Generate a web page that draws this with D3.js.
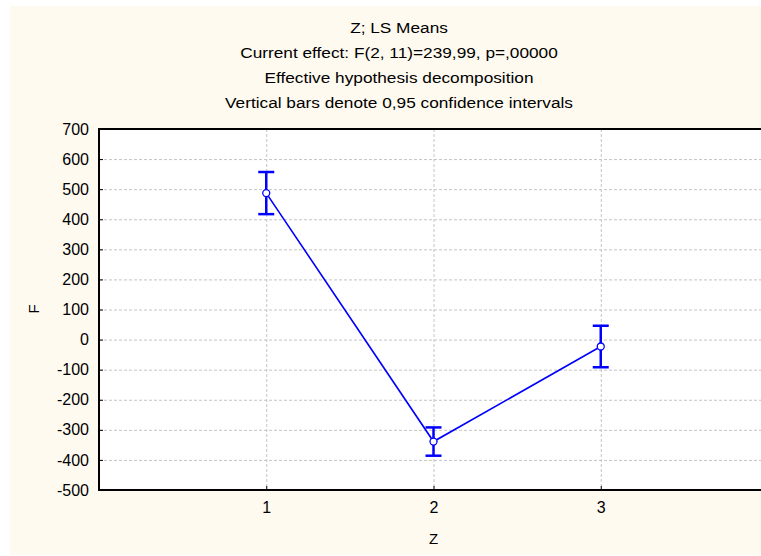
<!DOCTYPE html>
<html lang="en">
<head>
    <meta charset="UTF-8">
    <title>Z; LS Means</title>
    <script src="https://d3js.org/d3.v7.min.js"></script>
    <style>
        body { margin: 0; background: #ffffff; }
        svg text {
            font-family: "Liberation Sans", Arial, Helvetica, sans-serif;
            fill: #000;
        }
        .grid line {
            stroke: #c4c4c4;
            stroke-width: 1px;
            stroke-dasharray: 3,2;
        }
        .axis-line {
            stroke: #000;
            stroke-width: 2px;
        }
    </style>
</head>
<body>
    <svg width="761" height="556"></svg>

    <script>
        // data
        const categories = [1, 2, 3];
        const means = [487, -339, -23];
        const ciLow = [417, -386, -92];
        const ciHigh = [557, -292, 46];
        const yTicks = [700, 600, 500, 400, 300, 200, 100, 0, -100, -200, -300, -400, -500];
        const titles = [
            "Z; LS Means",
            "Current effect: F(2, 11)=239,99, p=,00000",
            "Effective hypothesis decomposition",
            "Vertical bars denote 0,95 confidence intervals"
        ];

        const svg = d3.select("svg");
        const plotLeft = 99, plotRight = 768, plotTop = 129, plotBottom = 490;

        const x = d3.scaleLinear().domain([0, 4]).range([plotLeft, plotRight]);
        const y = d3.scaleLinear().domain([-500, 700]).range([plotBottom, plotTop]);

        // cream background
        svg.append("rect")
            .attr("x", 10).attr("y", 6)
            .attr("width", 751).attr("height", 549)
            .attr("fill", "#fffaf0");

        // plot area
        svg.append("rect")
            .attr("x", plotLeft).attr("y", plotTop)
            .attr("width", plotRight - plotLeft).attr("height", plotBottom - plotTop)
            .attr("fill", "#ffffff");

        // gridlines
        const grid = svg.append("g").attr("class", "grid");
        grid.selectAll(".hg").data(yTicks.filter(d => d > -500 && d < 700)).enter()
            .append("line")
            .attr("x1", plotLeft).attr("x2", plotRight)
            .attr("y1", d => y(d) + 0.5).attr("y2", d => y(d) + 0.5);
        grid.selectAll(".vg").data(categories).enter()
            .append("line")
            .attr("y1", plotTop).attr("y2", plotBottom)
            .attr("x1", d => x(d) + 0.5).attr("x2", d => x(d) + 0.5);

        // frame
        svg.append("line").attr("class", "axis-line")
            .attr("x1", plotLeft).attr("x2", plotRight).attr("y1", plotTop).attr("y2", plotTop);
        svg.append("line").attr("class", "axis-line")
            .attr("x1", plotLeft).attr("x2", plotRight).attr("y1", plotBottom).attr("y2", plotBottom);
        svg.append("line").attr("class", "axis-line")
            .attr("x1", plotLeft).attr("x2", plotLeft).attr("y1", plotTop - 1).attr("y2", plotBottom + 1);

        // y axis (plain hyphen for negatives, like the original)
        const yAxis = d3.axisLeft(y).tickValues(yTicks).tickSize(-4).tickPadding(10)
            .tickFormat(d => String(d));
        const gy = svg.append("g").attr("transform", `translate(${plotLeft},0)`).call(yAxis);
        gy.select(".domain").remove();
        gy.selectAll(".tick line").attr("stroke", "#000");
        gy.selectAll(".tick text")
            .attr("font-size", 16)
            .attr("font-family", "Liberation Sans, Arial, sans-serif")
            .attr("fill", "#000");

        // x axis
        const xAxis = d3.axisBottom(x).tickValues(categories).tickSize(-4).tickPadding(12)
            .tickFormat(d => String(d));
        const gx = svg.append("g").attr("transform", `translate(0,${plotBottom})`).call(xAxis);
        gx.select(".domain").remove();
        gx.selectAll(".tick line").attr("stroke", "#000");
        gx.selectAll(".tick text")
            .attr("font-size", 16)
            .attr("font-family", "Liberation Sans, Arial, sans-serif")
            .attr("fill", "#000");

        // axis titles
        svg.append("text")
            .attr("x", x(2)).attr("y", 544)
            .attr("text-anchor", "middle")
            .attr("font-size", 15)
            .text("Z");
        svg.append("text")
            .attr("transform", "translate(39,309) rotate(-90)")
            .attr("text-anchor", "middle")
            .attr("font-size", 15)
            .text("F");

        // chart titles
        svg.selectAll(".title").data(titles).enter()
            .append("text")
            .attr("class", "title")
            .attr("transform", (d, i) => `translate(399,${33 + i * 25}) scale(1.15,1)`)
            .attr("text-anchor", "middle")
            .attr("font-size", 15)
            .text(d => d);

        // mean line
        const line = d3.line().x(d => x(d.c)).y(d => y(d.m));
        const pts = categories.map((c, i) => ({ c: c, m: means[i], lo: ciLow[i], hi: ciHigh[i] }));
        svg.append("path")
            .datum(pts)
            .attr("d", line)
            .attr("fill", "none")
            .attr("stroke", "#0000ff")
            .attr("stroke-width", 1.6);

        // confidence interval whiskers
        const bars = svg.append("g").attr("stroke", "#0000ff").attr("stroke-width", 2.5);
        bars.selectAll(".ci").data(pts).enter()
            .append("line")
            .attr("x1", d => x(d.c)).attr("x2", d => x(d.c))
            .attr("y1", d => y(d.hi)).attr("y2", d => y(d.lo));
        bars.selectAll(".cap-hi").data(pts).enter()
            .append("line")
            .attr("x1", d => x(d.c) - 8).attr("x2", d => x(d.c) + 8)
            .attr("y1", d => y(d.hi)).attr("y2", d => y(d.hi));
        bars.selectAll(".cap-lo").data(pts).enter()
            .append("line")
            .attr("x1", d => x(d.c) - 8).attr("x2", d => x(d.c) + 8)
            .attr("y1", d => y(d.lo)).attr("y2", d => y(d.lo));

        // markers
        svg.selectAll(".pt").data(pts).enter()
            .append("circle")
            .attr("cx", d => x(d.c)).attr("cy", d => y(d.m))
            .attr("r", 3.5)
            .attr("fill", "#ffffff")
            .attr("stroke", "#0000ff")
            .attr("stroke-width", 1.3);
    </script>
</body>
</html>
